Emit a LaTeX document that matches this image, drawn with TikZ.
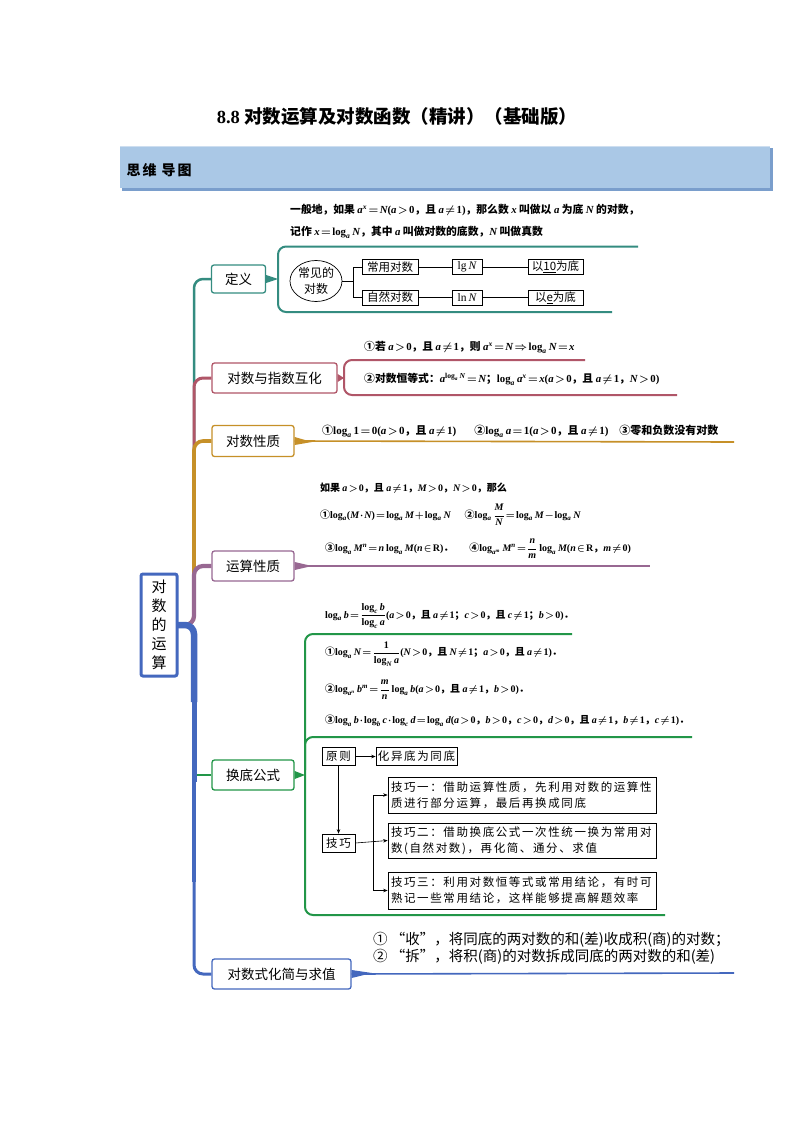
\documentclass[tikz,border=0pt]{standalone}
\usepackage{amsmath,amssymb}
\usepackage[no-math]{fontspec}
\setmainfont{Noto Sans CJK SC}
\newfontfamily\widefont{Noto Sans CJK SC}[LetterSpace=14]
\newfontfamily\lserif{Liberation Serif}[NFSSFamily=lsr]
\DeclareSymbolFont{tletters}{TU}{lsr}{m}{it}
\SetSymbolFont{tletters}{bold}{TU}{lsr}{bx}{it}
\DeclareSymbolFont{tupright}{TU}{lsr}{m}{n}
\SetSymbolFont{tupright}{bold}{TU}{lsr}{bx}{n}
\newcount\lettcnt
\lettcnt=`a
\loop
  \Umathcode\lettcnt=7 \symtletters \lettcnt
  \advance\lettcnt by 1
\ifnum\lettcnt<\numexpr`z+1\relax \repeat
\lettcnt=`A
\loop
  \Umathcode\lettcnt=7 \symtletters \lettcnt
  \advance\lettcnt by 1
\ifnum\lettcnt<\numexpr`Z+1\relax \repeat
\lettcnt=`0
\loop
  \Umathcode\lettcnt=0 \symtupright \lettcnt
  \advance\lettcnt by 1
\ifnum\lettcnt<\numexpr`9+1\relax \repeat
\Umathcode`(=4 \symtupright `(
\Umathcode`)=5 \symtupright `)
\renewcommand\log{\mathop{\text{\lserif\upshape log}}\nolimits}
\renewcommand\lg{\mathop{\text{\lserif\upshape lg}}\nolimits}
\renewcommand\ln{\mathop{\text{\lserif\upshape ln}}\nolimits}
\newcommand\RR{\text{\lserif\upshape R}}
\usetikzlibrary{arrows.meta,shapes.geometric}
\pgfdeclarelayer{bg}
\pgfsetlayers{bg,main}
\definecolor{cteal}{RGB}{52,140,128}
\definecolor{crose}{RGB}{176,86,104}
\definecolor{cgold}{RGB}{198,144,40}
\definecolor{cpurp}{RGB}{152,104,146}
\definecolor{cgreen}{RGB}{34,150,72}
\definecolor{cblue}{RGB}{68,104,190}
\definecolor{barfill}{RGB}{170,200,230}
\definecolor{barshade}{RGB}{122,158,204}
\definecolor{bartop}{RGB}{205,222,240}
\newcommand\fsz[2]{\fontsize{#1}{#2}\selectfont}
\newcommand\tightmath{\thickmuskip=2mu plus 1mu\medmuskip=1.5mu plus 1mu}
\tikzset{
  topic/.style={draw=#1, line width=1.3pt, rounded corners=2.5pt, fill=white,
    inner sep=0pt, font=\fsz{13.5}{16}},
  sbox/.style={draw=black, line width=0.7pt, minimum height=15pt, inner sep=0pt,
    font=\fsz{11.5}{14}},
  txt/.style={anchor=west, inner sep=0pt, font=\fsz{10}{12}\bfseries\boldmath\tightmath},
  txtl/.style={anchor=west, inner sep=0pt, font=\fsz{10.8}{13}\bfseries\boldmath\tightmath},
  stxt/.style={anchor=west, inner sep=0pt, font=\fsz{14.5}{16}},
  flowbox/.style={draw=black, line width=0.7pt, inner sep=0pt, align=left,
    font=\widefont\fsz{11.5}{16}},
  arr/.style={-{Stealth[length=4.5pt,width=3.5pt]}, line width=0.6pt},
  thin/.style={line width=0.7pt},
  branch/.style={rounded corners=9pt},
  brace/.style={line width=2pt, rounded corners=8pt},
  tail/.style={line width=1.6pt},
}
\begin{document}
\begin{tikzpicture}[x=1pt,y=-1pt]
\useasboundingbox (0,0) rectangle (794,1123);
\begin{pgfonlayer}{bg}
\fill[white] (0,0) rectangle (794,1123);
\end{pgfonlayer}

% title and header
\node[font=\fsz{18.5}{20}\bfseries] (title) at (397,117) {{\lserif 8.8} 对数运算及对数函数（精讲）（基础版）};
\fill[barshade] (122,148) rectangle (773,191);
\fill[barfill] (120,146) rectangle (770,188);
\draw[bartop, line width=1pt] (120,146.5) -- (770,146.5);
\node[anchor=west, font=\fsz{14}{16}\bfseries] (hdr) at (123,170) {思\hspace{2pt}维\hspace{5pt}导\hspace{2pt}图};

% main node and topics
\node[draw=cblue, line width=3pt, rounded corners=2pt, fill=white, minimum width=36pt,
  minimum height=102pt, align=center, inner sep=0pt, font=\fsz{15}{19}] (main) at (159,625) {对\\数\\的\\运\\算};
\node[topic=cteal, minimum width=54pt, minimum height=28pt] (def) at (238.5,279) {定义};
\node[topic=crose, minimum width=125pt, minimum height=30pt] (exp) at (274.5,378) {对数与指数互化};
\node[topic=cgold, minimum width=82pt, minimum height=31pt] (prop) at (253,441) {对数性质};
\node[topic=cpurp, minimum width=82pt, minimum height=30pt] (oper) at (253,566) {运算性质};
\node[topic=cgreen, minimum width=82pt, minimum height=30pt] (hd) at (253,775) {换底公式};
\node[topic=cblue, minimum width=139pt, minimum height=30pt] (simp) at (281.5,974) {对数式化简与求值};

% trunk (behind the nodes)
\coordinate (t0) at (194,625);
\coordinate (ta) at (194,700);
\coordinate (tb) at (194,780);
\coordinate (tc) at (194,880);
\begin{pgfonlayer}{bg}
\draw[branch, cteal, line width=2.5pt] (main.center) -- (t0) |- (def.west);
\draw[branch, crose, line width=3pt] (main.center) -- (t0) |- (exp.west);
\draw[branch, cgold, line width=3.6pt] (main.center) -- (t0) |- (prop.west);
\draw[branch, cpurp, line width=4.2pt] (main.center) -- (t0) |- (oper.west);
\draw[cgreen, line width=2.2pt] (tb |- hd.west) -- (hd.west);
\draw[branch, cblue, line width=3pt] (tc) |- (simp.west);
\draw[cblue, line width=4pt] (tb) -- ([yshift=-2pt]tc);
\draw[cblue, line width=5pt] (ta) -- ([yshift=-2pt]tb);
\draw[branch, cblue, line width=6.5pt] (main.center) -- (t0) -- ([yshift=-2pt]ta);
\end{pgfonlayer}

% ---- definition branch
\coordinate (defb) at (278,279);
\fill[cteal] ([yshift=4pt]def.east) -- (defb) -- ([yshift=-4pt]def.east) -- cycle;
\draw[brace, cteal] (638,246.5) -- (278,246.5) -- (278,312) -- (612,312);
\node[txtl] (d1) at (290,210) {一般地，如果 $a^x=N(a>0$，且 $a\neq1)$，那么数 $x$ 叫做以 $a$ 为底 $N$ 的对数，};
\node[txtl] (d2) at (290,232) {记作 $x=\log_a N$，其中 $a$ 叫做对数的底数，$N$ 叫做真数};
\node[ellipse, draw, thin, minimum width=52pt, minimum height=41pt, inner sep=0pt, align=center,
  font=\fsz{12}{16}] (cj) at (316,281) {常见的\\对数};
\node[sbox, minimum width=56pt] (cy) at (390,267) {常用对数};
\node[sbox, minimum width=56pt] (zr) at (390,297.5) {自然对数};
\node[sbox, minimum width=30pt] (lg) at (467,267) {$\lg N$};
\node[sbox, minimum width=30pt] (ln) at (467,297.5) {$\ln N$};
\node[sbox, minimum width=55pt] (b10) at (555.5,267) {以\underline{10}为底};
\node[sbox, minimum width=55pt] (be) at (555.5,297.5) {以\underline{e}为底};
\coordinate (fk1) at (353,281);
\draw[thin] (cj.east) -- (fk1);
\draw[thin] (fk1) |- (cy.west);
\draw[thin] (fk1) |- (zr.west);
\draw[thin] (cy.east) -- (lg.west);
\draw[thin] (lg.east) -- (b10.west);
\draw[thin] (zr.east) -- (ln.west);
\draw[thin] (ln.east) -- (be.west);

% ---- exp branch
\coordinate (expb) at (344,378);
\fill[crose] ([yshift=4pt]exp.east) -- (expb) -- ([yshift=-4pt]exp.east) -- cycle;
\draw[brace, crose] (585,360) -- (344,360) -- (344,395) -- (677,395);
\node[txtl] (e1) at (364,347) {①若 $a>0$，且 $a\neq1$，则 $a^x=N\Rightarrow\log_aN=x$};
\node[txtl] (e2) at (364,379) {②对数恒等式：$a^{\log_a N}=N$；$\log_a a^x=x(a>0$，且 $a\neq1$，$N>0)$};

% ---- properties
\coordinate (propend) at (734,442);
\fill[cgold] ([yshift=4pt]prop.east) -- (312,442) -- ([yshift=-4pt]prop.east) -- cycle;
\draw[tail, cgold] (prop.east) -- (propend);
\node[txtl, font=\fsz{11}{13}\bfseries\boldmath\tightmath] (p1) at (322,431) {①$\log_a1=0(a>0$，且 $a\neq1)$\hspace{18pt}②$\log_aa=1(a>0$，且 $a\neq1)$\hspace{11pt}③零和负数没有对数};

% ---- operations
\coordinate (operend) at (650,566);
\fill[cpurp] ([yshift=4pt]oper.east) -- (312,566) -- ([yshift=-4pt]oper.east) -- cycle;
\draw[tail, cpurp] (oper.east) -- (operend);
\node[txt] (o0) at (320,488) {如果 $a>0$，且 $a\neq1$，$M>0$，$N>0$，那么};
\node[txt] (o1) at (320,515) {①$\log_a(M\cdot N)=\log_aM+\log_aN$\hspace{14pt}②$\log_a\dfrac{M}{N}=\log_aM-\log_aN$};
\node[txt] (o2) at (325,549) {③$\log_aM^n=n\log_aM(n\in\RR)$．\hspace{16pt}④$\log_{a^m}M^n=\dfrac{n}{m}\log_aM(n\in\RR$，$m\neq0)$};

% ---- change of base
\coordinate (hdb) at (305,775);
\fill[cgreen] ([yshift=4pt]hd.east) -- (hdb) -- ([yshift=-4pt]hd.east) -- cycle;
\draw[brace, cgreen] (572,634) -- (305,634) -- (305,915) -- (665,915);
\draw[brace, cgreen] (305,770) -- (305,737) -- (692,737);
\node[txt] (h0) at (325,616) {$\log_ab=\dfrac{\log_cb}{\log_ca}(a>0$，且 $a\neq1$；$c>0$，且 $c\neq1$；$b>0)$．};
\node[txt] (h1) at (325,654) {①$\log_aN=\dfrac{1}{\log_Na}(N>0$，且 $N\neq1$；$a>0$，且 $a\neq1)$．};
\node[txt] (h2) at (325,690) {②$\log_{a^n}b^m=\dfrac{m}{n}\log_ab(a>0$，且 $a\neq1$，$b>0)$．};
\node[txt] (h3) at (325,721) {③$\log_ab\cdot\log_bc\cdot\log_cd=\log_ad(a>0$，$b>0$，$c>0$，$d>0$，且 $a\neq1$，$b\neq1$，$c\neq1)$．};

\node[flowbox, minimum width=33pt, minimum height=18pt, align=center] (yz) at (338.5,756.5) {原则};
\node[flowbox, minimum width=81pt, minimum height=18pt, align=center] (hy) at (416.5,756.5) {化异底为同底};
\node[flowbox, minimum width=33pt, minimum height=18pt, align=center] (jq) at (338.5,843) {技巧};
\node[flowbox, minimum width=268pt, minimum height=36pt, text width=262pt] (k1) at (522,795) {技巧一：借助运算性质，先利用对数的运算性\\质进行部分运算，最后再换成同底};
\node[flowbox, minimum width=268pt, minimum height=35pt, text width=262pt] (k2) at (522,840.5) {技巧二：借助换底公式一次性统一换为常用对\\数(自然对数)，再化简、通分、求值};
\node[flowbox, minimum width=268pt, minimum height=37pt, text width=262pt] (k3) at (522,890.5) {技巧三：利用对数恒等式或常用结论，有时可\\熟记一些常用结论，这样能够提高解题效率};
\coordinate (fk2) at (373,843);
\draw[arr] (yz.east) -- (hy.west);
\draw[arr] (yz.south) -- (jq.north);
\draw[arr] (jq.east) -- (k2.west);
\draw[arr] (fk2) |- (k1.west);
\draw[arr] (fk2) |- (k3.west);

% ---- simplification
\coordinate (simpend) at (734,973);
\fill[cblue] ([yshift=4pt]simp.east) -- (372,973) -- ([yshift=-4pt]simp.east) -- cycle;
\draw[tail, cblue] (simp.east) -- (simpend);
\node[stxt] (s1) at (373,940) {① “收”，将同底的两对数的和(差)收成积(商)的对数；};
\node[stxt] (s2) at (373,957) {② “拆”，将积(商)的对数拆成同底的两对数的和(差)};
\end{tikzpicture}
\end{document}
